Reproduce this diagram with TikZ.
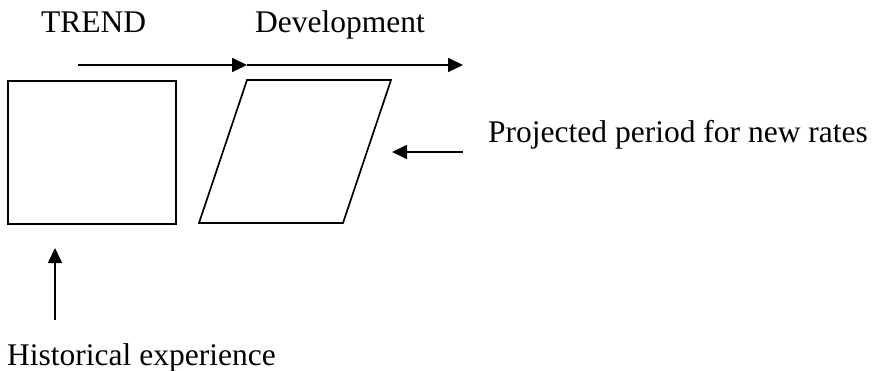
\documentclass[tikz,border=0pt]{standalone}
\usepackage{fontspec}
\setmainfont{Liberation Serif}
\usetikzlibrary{arrows.meta}

\tikzset{
  label text/.style={inner sep=0pt, font=\fontsize{31.5}{36}\selectfont},
  flow arrow/.style={line width=1.7pt, -{Triangle[length=15pt,width=14pt]}},
  box line/.style={draw, line width=1.7pt, line join=miter},
}

\begin{document}
\begin{tikzpicture}[x=1pt,y=1pt]
\useasboundingbox (0,0) rectangle (874,-371);
% labels
\node[label text, anchor=base west] (trend) at (41,-33) {TREND};
\node[label text, anchor=base west] (devel) at (255,-33) {Development};
\node[label text, anchor=base west] (proj) at (488,-143) {Projected period for new rates};
\node[label text, anchor=base west] (hist) at (7,-365) {Historical experience};
% history block and projected block
\node[box line, minimum width=168pt, minimum height=143pt, anchor=north west] (past) at (7,-80) {};
\coordinate (pa) at (247,-80);
\coordinate (pb) at (391,-80);
\coordinate (pc) at (343,-223);
\coordinate (pd) at (199,-223);
\draw[box line] (pa) -- (pb) -- (pc) -- (pd) -- cycle;
% arrows
\coordinate (trendfrom) at (78,-65);
\coordinate (trendto) at (247,-65);
\coordinate (develto) at (463,-65);
\coordinate (projfrom) at (463,-152);
\coordinate (projto) at (392,-152);
\coordinate (histfrom) at (55,-320);
\coordinate (histto) at (55,-248);
\draw[flow arrow] (trendfrom) -- (trendto);
\draw[flow arrow] (trendto) -- (develto);
\draw[flow arrow] (projfrom) -- (projto);
\draw[flow arrow] (histfrom) -- (histto);
\end{tikzpicture}
\end{document}
